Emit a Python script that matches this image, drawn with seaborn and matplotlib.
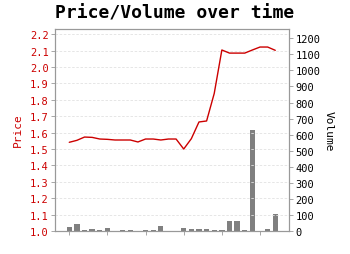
import matplotlib
matplotlib.use("Agg")
import matplotlib.pyplot as plt
import seaborn as sns
import numpy as np
import pandas as pd

# ---- data ----
idx = list(range(28))
price = [1.541, 1.553, 1.573, 1.571, 1.561, 1.559, 1.555, 1.555, 1.555, 1.543,
         1.561, 1.561, 1.555, 1.561, 1.561, 1.500, 1.563, 1.665, 1.671, 1.839,
         2.104, 2.085, 2.085, 2.085, 2.104, 2.122, 2.122, 2.102]
volume = [25, 42, 8, 15, 8, 17, 0, 8, 8, 3, 8, 8, 29, 3, 3, 17, 15, 10, 15, 5,
          5, 64, 60, 4, 630, 2, 12, 104]
price_ticks = [1.0, 1.1, 1.2, 1.3, 1.4, 1.5, 1.6, 1.7, 1.8, 1.9, 2.0, 2.1, 2.2]
volume_ticks = [0, 100, 200, 300, 400, 500, 600, 700, 800, 900, 1000, 1100, 1200]
x_ticks = [0, 5, 10, 15, 20, 25]
title = "Price/Volume over time"

df = pd.DataFrame({"idx": idx, "price": price, "volume": volume})

sns.set_style("white")
plt.rcParams["font.family"] = ["DejaVu Sans Mono"]

RED = "#cc0000"
GRAY = "#999999"

fig = plt.figure(figsize=(3.5, 2.55), dpi=100)
ax = fig.add_axes([55/350, 23/255, 234/350, 202/255])
ax2 = ax.twinx()

sns.barplot(data=df, x="idx", y="volume", ax=ax2, color="#808080",
            width=0.7, native_scale=True, saturation=1, linewidth=0)
sns.lineplot(data=df, x="idx", y="price", ax=ax, color=RED, linewidth=1)

ax.set_zorder(ax2.get_zorder() + 1)
ax.patch.set_visible(False)

ax.set_xlim(-1.87, 28.8)
ax2.set_xlim(-1.87, 28.8)
ax.set_ylim(1.0, 2.232)
ax2.set_ylim(0, 1258)

ax.set_yticks(price_ticks)
ax.set_yticklabels([f"{v:.1f}" for v in price_ticks])
ax2.set_yticks(volume_ticks)
ax2.set_yticklabels([str(v) for v in volume_ticks])
ax.set_xticks(x_ticks)
ax.set_xticklabels([""] * len(x_ticks))
ax2.set_xticks(x_ticks)

ax.yaxis.grid(True, color="#e2e2e2", linestyle=(0, (3, 2)), linewidth=0.6)
ax.xaxis.grid(False)
ax2.grid(False)

for a in (ax, ax2):
    for s in a.spines.values():
        s.set_color(GRAY)
        s.set_linewidth(0.8)
        s.set_visible(True)

ax.tick_params(axis="y", colors=GRAY, labelcolor=RED, labelsize=7.5,
               length=3, width=0.6, pad=1.5, direction="out", left=True)
ax.tick_params(axis="x", colors=GRAY, length=3, width=0.6, direction="out", bottom=True)
ax2.tick_params(axis="y", colors=GRAY, labelcolor="black", labelsize=7.5,
                length=3, width=0.6, pad=1.5, direction="out", right=True)
ax2.tick_params(axis="x", bottom=False, labelbottom=False)

ax.set_xlabel("")
ax.set_ylabel("Price", color=RED, fontsize=8)
ax.yaxis.set_label_coords(-0.137, 0.505)
ax2.set_ylabel("Volume", color="black", fontsize=8, rotation=270, va="center")
ax2.yaxis.set_label_coords(1.170, 0.497)

fig.text(0.5, 1 - 14/255, title, ha="center", va="center",
         fontsize=13, fontweight="bold", color="black")

fig.savefig("out.png", dpi=100)
